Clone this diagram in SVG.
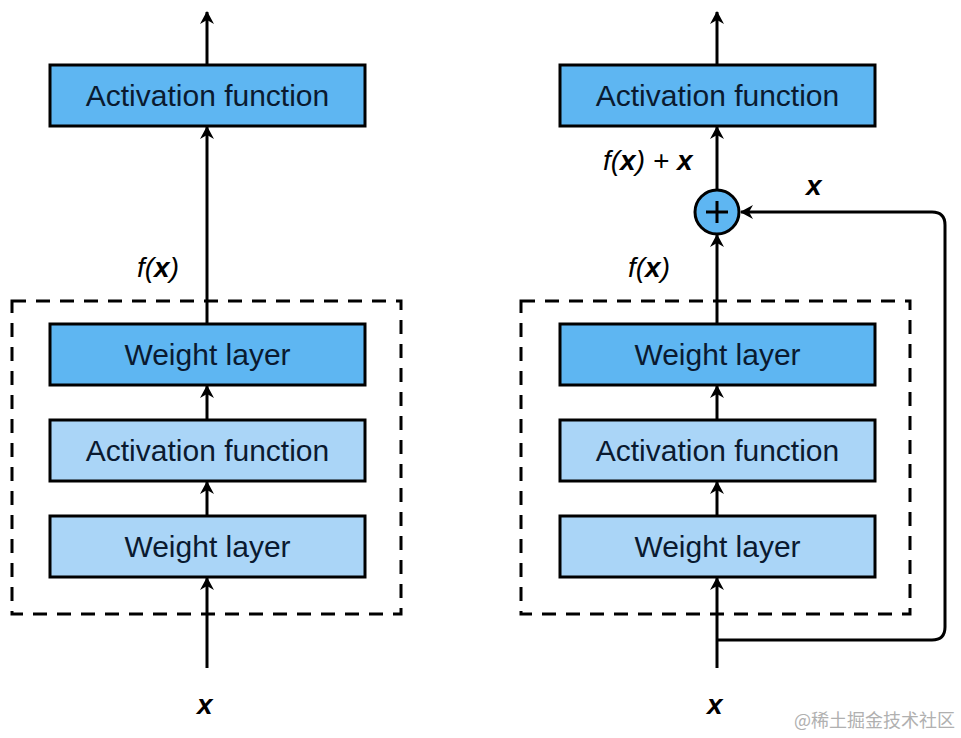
<svg xmlns="http://www.w3.org/2000/svg" width="961" height="738" viewBox="0 0 961 738">
<defs>
<marker id="ah" viewBox="0 0 13 14" refX="12" refY="7" markerWidth="13" markerHeight="14" markerUnits="userSpaceOnUse" orient="auto">
<path d="M0,0 L13,7 L0,14 L4,7 Z" fill="#000"/>
</marker>
</defs>
<style>
.dark{fill:#5eb6f2;stroke:#000;stroke-width:3}
.light{fill:#aad5f7;stroke:#000;stroke-width:3}
.lbl{font-family:"Liberation Sans",Arial,sans-serif;font-size:30px;fill:#0a1a30;text-anchor:middle}
.math{font-family:"Liberation Sans",Arial,sans-serif;font-size:28px;font-style:italic;fill:#000}
.dash{fill:none;stroke:#000;stroke-width:3;stroke-dasharray:14,10}
.conn{fill:none;stroke:#000;stroke-width:3}
</style>
<rect width="961" height="738" fill="#fff"/>
<g id="left-group">
<rect class="dash" x="12" y="301" width="389" height="313"/>
</g>
<g id="right-group">
<rect class="dash" x="521" y="301" width="389" height="313"/>
</g>
<g id="connectors">
<line class="conn" x1="207" y1="64" x2="207" y2="12" marker-end="url(#ah)"/>
<line class="conn" x1="207" y1="324" x2="207" y2="127" marker-end="url(#ah)"/>
<line class="conn" x1="207" y1="420" x2="207" y2="386" marker-end="url(#ah)"/>
<line class="conn" x1="207" y1="516" x2="207" y2="482" marker-end="url(#ah)"/>
<line class="conn" x1="207" y1="668" x2="207" y2="578" marker-end="url(#ah)"/>
<line class="conn" x1="717" y1="64" x2="717" y2="12" marker-end="url(#ah)"/>
<line class="conn" x1="717" y1="190" x2="717" y2="127" marker-end="url(#ah)"/>
<line class="conn" x1="717" y1="324" x2="717" y2="235" marker-end="url(#ah)"/>
<line class="conn" x1="717" y1="420" x2="717" y2="386" marker-end="url(#ah)"/>
<line class="conn" x1="717" y1="516" x2="717" y2="482" marker-end="url(#ah)"/>
<line class="conn" x1="717" y1="668" x2="717" y2="578" marker-end="url(#ah)"/>
<path class="conn" d="M717,640 L932,640 Q945,640 945,627 L945,225 Q945,212 932,212 L741,212" marker-end="url(#ah)"/>
</g>
<g id="left-activation-top">
<rect class="dark" x="50" y="65" width="315" height="61"/>
<text class="lbl" x="207.5" y="106">Activation function</text>
</g>
<g id="left-weight-top">
<rect class="dark" x="50" y="324" width="315" height="61"/>
<text class="lbl" x="207.5" y="365">Weight layer</text>
</g>
<g id="left-activation-mid">
<rect class="light" x="50" y="420" width="315" height="61"/>
<text class="lbl" x="207.5" y="461">Activation function</text>
</g>
<g id="left-weight-bottom">
<rect class="light" x="50" y="516" width="315" height="61"/>
<text class="lbl" x="207.5" y="557">Weight layer</text>
</g>
<g id="right-activation-top">
<rect class="dark" x="560" y="65" width="315" height="61"/>
<text class="lbl" x="717.5" y="106">Activation function</text>
</g>
<g id="right-weight-top">
<rect class="dark" x="560" y="324" width="315" height="61"/>
<text class="lbl" x="717.5" y="365">Weight layer</text>
</g>
<g id="right-activation-mid">
<rect class="light" x="560" y="420" width="315" height="61"/>
<text class="lbl" x="717.5" y="461">Activation function</text>
</g>
<g id="right-weight-bottom">
<rect class="light" x="560" y="516" width="315" height="61"/>
<text class="lbl" x="717.5" y="557">Weight layer</text>
</g>
<g id="plus">
<circle cx="717" cy="212" r="22" fill="#5eb6f2" stroke="#000" stroke-width="3"/>
<path d="M706,212 H728 M717,201 V223" stroke="#000" stroke-width="3" fill="none"/>
</g>
<g id="labels">
<text class="math" x="137" y="277">f(<tspan font-weight="bold">x</tspan>)</text>
<text class="math" x="628" y="277">f(<tspan font-weight="bold">x</tspan>)</text>
<text class="math" x="603" y="170">f(<tspan font-weight="bold">x</tspan>) + <tspan font-weight="bold">x</tspan></text>
<text class="math" x="806" y="195" font-weight="bold">x</text>
<text class="math" x="197" y="714" font-weight="bold">x</text>
<text class="math" x="707" y="714" font-weight="bold">x</text>
</g>
<text x="955" y="727" text-anchor="end" font-family="'Noto Sans CJK SC',sans-serif" font-size="18" fill="#b0b0b0">@稀土掘金技术社区</text>
</svg>
